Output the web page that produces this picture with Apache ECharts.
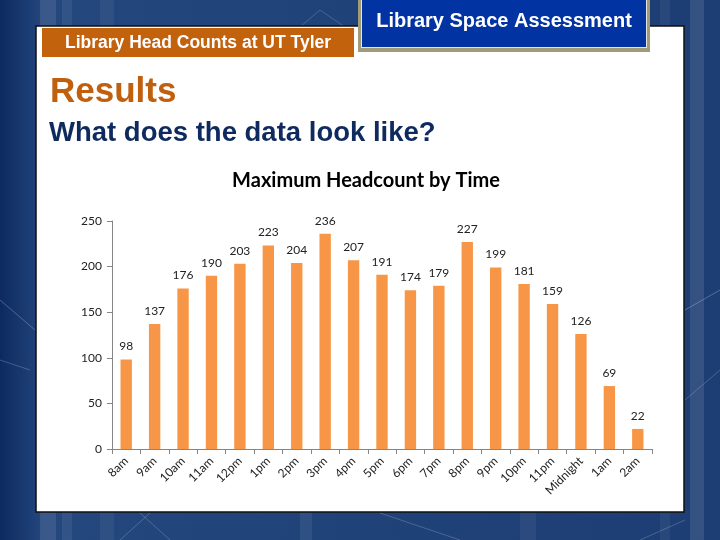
<!DOCTYPE html>
<html>
<head>
<meta charset="utf-8">
<script src="https://cdn.jsdelivr.net/npm/echarts@6/dist/echarts.min.js"></script>
<style>
html,body{margin:0;padding:0;width:720px;height:540px;overflow:hidden;}
#c{width:720px;height:540px;}
</style>
</head>
<body>
<div id="c"></div>
<script>
const categories = ['8am','9am','10am','11am','12pm','1pm','2pm','3pm','4pm','5pm','6pm','7pm','8pm','9pm','10pm','11pm','Midnight','1am','2am'];
const headcounts = [98,137,176,190,203,223,204,236,207,191,174,179,227,199,181,159,126,69,22];
const yTicks = { min: 0, max: 250, interval: 50 };
const chartTitle = 'Maximum Headcount by Time';
const tabText = 'Library Head Counts at UT Tyler';
const boxText = 'Library Space Assessment';
const heading = 'Results';
const subheading = 'What does the data look like?';

const chart = echarts.init(document.getElementById('c'));

const bg = [
  {type:'rect', z:-10, shape:{x:0,y:0,width:720,height:540}, style:{fill:new echarts.graphic.LinearGradient(0,0,1,0,[{offset:0,color:'#0c2a60'},{offset:0.06,color:'#24477d'},{offset:0.5,color:'#1f4279'},{offset:1,color:'#1d3e74'}])}},
  {type:'rect', z:-9, shape:{x:40,y:0,width:16,height:540}, style:{fill:'rgba(255,255,255,0.10)'}},
  {type:'rect', z:-9, shape:{x:62,y:0,width:10,height:540}, style:{fill:'rgba(255,255,255,0.07)'}},
  {type:'rect', z:-9, shape:{x:100,y:0,width:14,height:540}, style:{fill:'rgba(255,255,255,0.06)'}},
  {type:'rect', z:-9, shape:{x:690,y:0,width:14,height:540}, style:{fill:'rgba(255,255,255,0.10)'}},
  {type:'rect', z:-9, shape:{x:660,y:0,width:10,height:540}, style:{fill:'rgba(255,255,255,0.05)'}},
  {type:'rect', z:-9, shape:{x:300,y:512,width:12,height:28}, style:{fill:'rgba(255,255,255,0.07)'}},
  {type:'rect', z:-9, shape:{x:520,y:512,width:16,height:28}, style:{fill:'rgba(255,255,255,0.06)'}},
  {type:'polyline', z:-8, shape:{points:[[0,300],[35,330]]}, style:{stroke:'rgba(255,255,255,0.25)',lineWidth:1}},
  {type:'polyline', z:-8, shape:{points:[[0,360],[30,370]]}, style:{stroke:'rgba(255,255,255,0.2)',lineWidth:1}},
  {type:'polyline', z:-8, shape:{points:[[685,310],[720,290]]}, style:{stroke:'rgba(255,255,255,0.25)',lineWidth:1}},
  {type:'polyline', z:-8, shape:{points:[[685,400],[720,370]]}, style:{stroke:'rgba(255,255,255,0.2)',lineWidth:1}},
  {type:'polyline', z:-8, shape:{points:[[120,540],[150,513]]}, style:{stroke:'rgba(255,255,255,0.2)',lineWidth:1}},
  {type:'polyline', z:-8, shape:{points:[[170,540],[140,513]]}, style:{stroke:'rgba(255,255,255,0.2)',lineWidth:1}},
  {type:'polyline', z:-8, shape:{points:[[380,513],[460,540]]}, style:{stroke:'rgba(255,255,255,0.2)',lineWidth:1}},
  {type:'polyline', z:-8, shape:{points:[[640,540],[685,520]]}, style:{stroke:'rgba(255,255,255,0.2)',lineWidth:1}},
  {type:'polyline', z:-8, shape:{points:[[300,27],[320,10],[345,27]]}, style:{stroke:'rgba(255,255,255,0.18)',lineWidth:1}},
  // panel
  {type:'rect', z:-5, shape:{x:36,y:26,width:648,height:486}, style:{fill:'#ffffff',stroke:'#111111',lineWidth:1.5}},
  // orange tab
  {type:'rect', z:-4, shape:{x:42,y:28,width:312,height:29}, style:{fill:'#c3620d'}},
  {type:'text', z:-3, x:198, y:43, style:{text:tabText, fill:'#ffffff', font:'bold 17.5px "Liberation Sans", Arial', align:'center', verticalAlign:'middle'}},
  // blue box
  {type:'rect', z:-4, shape:{x:358,y:-5,width:292,height:57}, style:{fill:'#a19c78'}},
  {type:'rect', z:-4, shape:{x:361,y:-5,width:286,height:53}, style:{fill:'#e6e6e0'}},
  {type:'rect', z:-4, shape:{x:362,y:-5,width:284,height:52}, style:{fill:'#0233a2'}},
  {type:'text', z:-3, x:504, y:21, style:{text:boxText, fill:'#ffffff', font:'bold 20px "Liberation Sans", Arial', align:'center', verticalAlign:'middle'}},
  // headings
  {type:'text', z:-3, x:50, y:92, style:{text:heading, fill:'#c0600f', font:'bold 35px "Liberation Sans", Arial', align:'left', verticalAlign:'middle'}},
  {type:'text', z:-3, x:49, y:133, style:{text:subheading, fill:'#0f2a5e', font:'bold 27.5px "Liberation Sans", Arial', align:'left', verticalAlign:'middle'}}
];

chart.setOption({
  animation:false,
  backgroundColor:'transparent',
  graphic: bg,
  title:{text:chartTitle, left:361, textAlign:'center', top:166, textStyle:{fontFamily:'Lato', fontWeight:'bold', fontSize:20, color:'#000'}},
  grid:{left:112, right:68, top:221, bottom:91},
  xAxis:{
    type:'category', data:categories,
    axisLine:{lineStyle:{color:'#868686'}},
    axisTick:{show:true, length:5, lineStyle:{color:'#868686'}},
    axisLabel:{rotate:45, fontFamily:'Lato', fontSize:12, color:'#222', margin:10, interval:0}
  },
  yAxis:{
    type:'value', min:yTicks.min, max:yTicks.max, interval:yTicks.interval,
    axisLine:{show:true, lineStyle:{color:'#868686'}},
    axisTick:{show:true, length:5, lineStyle:{color:'#868686'}},
    splitLine:{show:false},
    axisLabel:{fontFamily:'Lato', fontSize:12, color:'#222', margin:10}
  },
  series:[{
    type:'bar', data:headcounts, barWidth:'40%',
    itemStyle:{color:'#f79646'},
    label:{show:true, position:'top', distance:7, fontFamily:'Lato', fontSize:12, color:'#222'}
  }]
});
</script>
</body>
</html>
